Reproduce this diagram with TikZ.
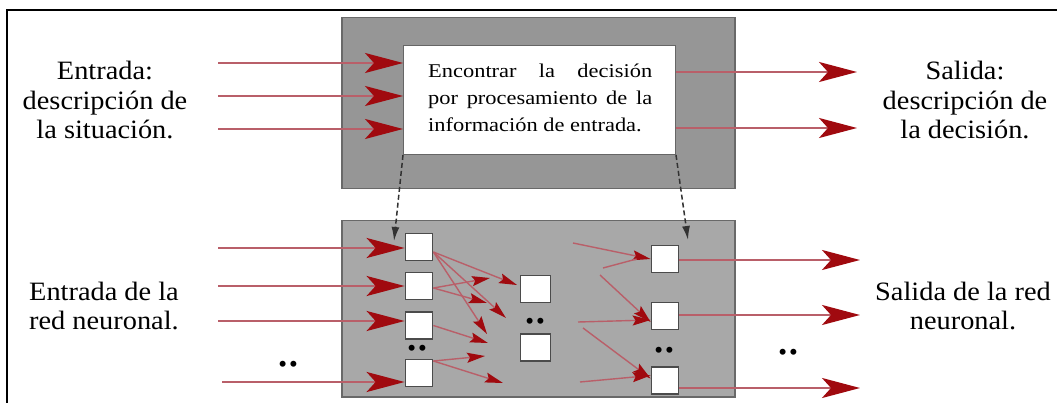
\documentclass[tikz,border=0pt]{standalone}
\usepackage{fontspec}
\setmainfont{Liberation Serif}
\newfontfamily\boxfont[FakeStretch=1.15]{Liberation Serif}
\newfontfamily\lblfont[FakeStretch=1.07]{Liberation Serif}
\usetikzlibrary{arrows.meta}
\definecolor{redline}{RGB}{185,95,105}
\definecolor{arrowred}{RGB}{160,10,15}
\definecolor{boxgray}{RGB}{150,150,150}
\definecolor{boxgrayb}{RGB}{168,168,168}
\definecolor{boxedge}{RGB}{105,105,105}
\definecolor{sqedge}{RGB}{75,75,75}
\definecolor{dashcol}{RGB}{50,50,50}
\begin{document}
\begin{tikzpicture}[x=1pt,y=-1pt,
  bigarrow/.style={draw=redline,line width=2.5pt,-{Stealth[length=38pt,width=20pt,inset=9pt,color=arrowred]}},
  smallarrow/.style={draw=redline,line width=1.4pt,-{Stealth[length=18pt,width=10pt,inset=3pt,color=arrowred]}},
  thinline/.style={draw=redline,line width=1.4pt},
  neuron/.style={draw=sqedge,line width=1.8pt,fill=white,minimum width=27pt,minimum height=27pt,inner sep=0pt},
  graybox/.style={draw=boxedge,line width=1.5pt,inner sep=0pt,anchor=north west},
  lbl/.style={font=\lblfont\fontsize{26.5}{29.5}\selectfont,inner sep=0pt,anchor=base},
  dots/.style={font=\fontsize{25}{25}\selectfont,inner sep=0pt},
  dasharrow/.style={draw=dashcol,line width=1.5pt,dash pattern=on 5pt off 3pt,-{Latex[length=14pt,width=8pt]}}
]
\useasboundingbox (0,0) rectangle (1057,403);
\fill[white] (0,0) rectangle (1057,403);
\draw[line width=2.5pt] (7,403) -- (7,10) -- (1057,10);

% boxes
\node[graybox,fill=boxgray,minimum width=393pt,minimum height=171pt] (top) at (341,17) {};
\node[graybox,fill=boxgrayb,minimum width=393pt,minimum height=176pt] (bot) at (341,220) {};
\node[draw=black!60,line width=1pt,fill=white,minimum width=272pt,minimum height=109pt,inner sep=0pt,anchor=north west] (wb) at (403,45) {};
\node[font=\boxfont\fontsize{19.5}{27}\selectfont,inner sep=0pt,anchor=base west] (wbtext) at (428,78)
  {\begin{tabular}[t]{@{}l@{}}\makebox[224pt][s]{Encontrar la decisión}\\\makebox[224pt][s]{por procesamiento de la}\\información de entrada.\end{tabular}};

% labels
\node[lbl] (lin) at (105,80) {\begin{tabular}[t]{@{}c@{}}Entrada:\\descripción de\\la situación.\end{tabular}};
\node[lbl] (lout) at (965,80) {\begin{tabular}[t]{@{}c@{}}Salida:\\descripción de\\la decisión.\end{tabular}};
\node[lbl] (lnin) at (104,300) {\begin{tabular}[t]{@{}c@{}}Entrada de la\\red neuronal.\end{tabular}};
\node[lbl] (lnout) at (963,300) {\begin{tabular}[t]{@{}c@{}}Salida de la red\\neuronal.\end{tabular}};

% neurons
\node[neuron] (n11) at (419,247) {};
\node[neuron] (n12) at (419,286) {};
\node[neuron] (n13) at (419,325.5) {};
\node[neuron] (n14) at (419,373) {};
\node[neuron,minimum width=30pt] (n21) at (535.5,289) {};
\node[neuron,minimum width=30pt] (n22) at (535.5,347.5) {};
\node[neuron] (n31) at (665,259) {};
\node[neuron] (n32) at (665,316) {};
\node[neuron] (n33) at (665,380.5) {};

% dots
\node[dots] (d1) at (417,351) {•\hspace{2pt}•};
\node[dots] (d2) at (535,324) {•\hspace{2pt}•};
\node[dots] (d3) at (664,353) {•\hspace{2pt}•};
\node[dots] (d4) at (288,367) {•\hspace{2pt}•};
\node[dots] (d5) at (788,355) {•\hspace{2pt}•};

% top inputs / outputs
\coordinate (ti1) at (218,63);
\coordinate (ti2) at (218,96);
\coordinate (ti3) at (218,129);
\draw[bigarrow] (ti1) -- (ti1 -| wb.west);
\draw[bigarrow] (ti2) -- (ti2 -| wb.west);
\draw[bigarrow] (ti3) -- (ti3 -| wb.west);
\coordinate (to1) at (857,72);
\coordinate (to2) at (857,128);
\draw[bigarrow] (to1 -| wb.east) -- (to1);
\draw[bigarrow] (to2 -| wb.east) -- (to2);

% bottom inputs / outputs
\coordinate (bi1) at (218,248);
\coordinate (bi2) at (218,286);
\coordinate (bi3) at (218,321);
\coordinate (bi4) at (222,382);
\draw[bigarrow] (bi1) -- (bi1 -| n11.west);
\draw[bigarrow] (bi2) -- (bi2 -| n12.west);
\draw[bigarrow] (bi3) -- (bi3 -| n13.west);
\draw[bigarrow] (bi4) -- (bi4 -| n14.west);
\coordinate (bo1) at (860,260);
\coordinate (bo2) at (860,315);
\coordinate (bo3) at (860,388);
\draw[bigarrow] (bo1 -| n31.east) -- (bo1);
\draw[bigarrow] (bo2 -| n32.east) -- (bo2);
\draw[bigarrow] (bo3 -| n33.east) -- (bo3);

% dashed links
\coordinate (dl) at (394,241);
\coordinate (dr) at (688,240);
\draw[dasharrow] (wb.south west) -- (dl);
\draw[dasharrow] (wb.south east) -- (dr);

% internal arrows, first layer
\coordinate (t1) at (517,285);
\coordinate (t2) at (506,318);
\coordinate (t3) at (487,334);
\coordinate (t4) at (490,278);
\coordinate (t5) at (487,303);
\coordinate (t6) at (488,343);
\coordinate (t7) at (485,356);
\coordinate (t8) at (503,383);
\draw[smallarrow] ([yshift=-5pt]n11.east) -- (t1);
\draw[smallarrow] ([yshift=-5pt]n11.east) -- (t2);
\draw[smallarrow] ([yshift=-5pt]n11.east) -- (t3);
\draw[smallarrow] ([yshift=-2pt]n12.east) -- (t4);
\draw[smallarrow] ([yshift=-2pt]n12.east) -- (t5);
\draw[smallarrow] (n13.east) -- (t6);
\draw[smallarrow] ([yshift=12pt]n14.east) -- (t7);
\draw[smallarrow] ([yshift=12pt]n14.east) -- (t8);

% internal arrows, last layer
\coordinate (s1) at (573,243);
\coordinate (s2) at (603,268);
\coordinate (s3) at (600,275);
\coordinate (s4) at (578,322);
\coordinate (s5) at (583,328);
\coordinate (s6) at (580,382);
\draw[smallarrow] (s1) -- (n31.west);
\draw[thinline] (s2) -- ([xshift=-14pt]n31.west);
\draw[smallarrow] (s3) -- ([yshift=-6pt]n32.west);
\draw[smallarrow] (s4) -- ([yshift=-4pt]n32.west);
\draw[smallarrow] (s5) -- ([yshift=2pt]n33.west);
\draw[smallarrow] (s6) -- ([yshift=5pt]n33.west);
\end{tikzpicture}
\end{document}
